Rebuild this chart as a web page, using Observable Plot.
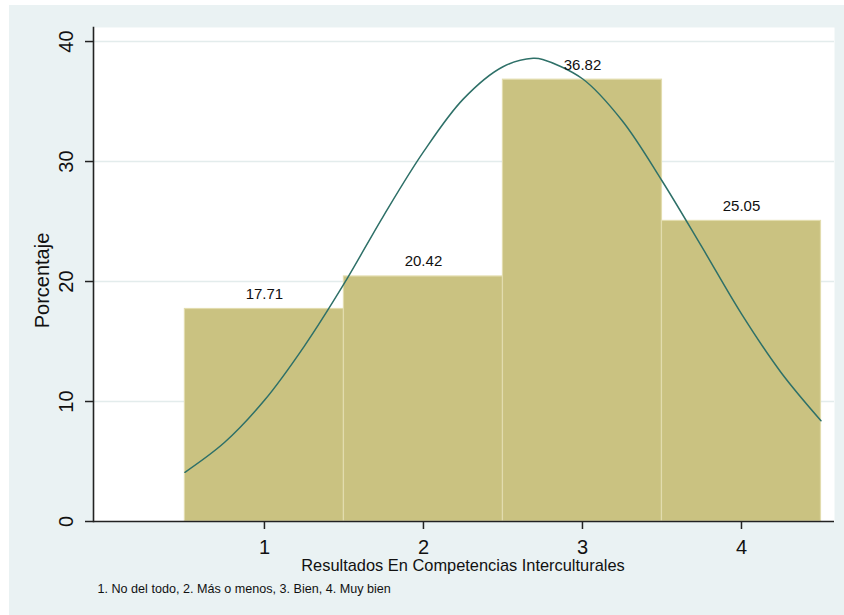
<!DOCTYPE html>
<html>
<head>
<meta charset="utf-8">
<script src="https://cdn.jsdelivr.net/npm/d3@7"></script>
<script src="https://cdn.jsdelivr.net/npm/@observablehq/plot@0.6"></script>
<style>
  html, body { margin: 0; padding: 0; background: #ffffff; }
  #wrap { position: absolute; left: 9px; top: 5px; width: 835px; height: 610px; background: #EAF2F3; }
  #wrap svg { display: block; background: transparent; }
</style>
</head>
<body>
<div id="wrap"></div>
<script>
// Categories and percentages (histogram)
const categories = [1, 2, 3, 4];
const percents = [17.71, 20.42, 36.82, 25.05];

// Normal density curve points (x, percent)
const curveX = [0.5, 0.75, 1.0, 1.25, 1.5, 1.75, 2.0, 2.25, 2.5, 2.69, 2.75, 3.0, 3.25, 3.5, 3.75, 4.0, 4.25, 4.5];
const curveY = [4.1, 6.6, 10.1, 14.6, 19.8, 25.5, 30.8, 35.2, 37.9, 38.6, 38.5, 36.9, 33.4, 28.4, 22.9, 17.3, 12.4, 8.4];

const xTicks = [1, 2, 3, 4];
const yTicks = [0, 10, 20, 30, 40];
const yTitle = "Porcentaje";
const xTitle = "Resultados En Competencias Interculturales";
const note = "1. No del todo, 2. Más o menos, 3. Bien, 4. Muy bien";

const bars = categories.map((c, i) => ({x1: c - 0.5, x2: c + 0.5, y: percents[i], c, label: percents[i].toFixed(2)}));
const curve = curveX.map((x, i) => ({x, y: curveY[i]}));

const font = "Arial, 'Liberation Sans', Helvetica, sans-serif";

const chart = Plot.plot({
  width: 835,
  height: 610,
  marginLeft: 84,
  marginTop: 22,
  marginRight: 10,
  marginBottom: 94,
  style: {fontFamily: font, background: "transparent", overflow: "visible"},
  x: {domain: [-0.075, 4.585], axis: null},
  y: {domain: [0, 41.17], axis: null},
  marks: [
    Plot.frame({fill: "white", stroke: "none"}),
    Plot.gridY(yTicks.filter(d => d > 0), {stroke: "#E3ECEC", strokeOpacity: 1, strokeWidth: 1.5}),
    Plot.rectY(bars, {x1: "x1", x2: "x2", y: "y", fill: "#CAC281", stroke: "#E2DCAE", strokeWidth: 1.2, inset: 0}),
    Plot.line(curve, {x: "x", y: "y", stroke: "#2E7068", strokeWidth: 1.5, curve: "catmull-rom"}),
    Plot.text(bars, {x: "c", y: "y", text: "label", dy: -15, lineAnchor: "middle", fontSize: 15, fill: "#111"}),
    Plot.axisX({ticks: xTicks, tickSize: 8, tickFormat: () => "", label: null, stroke: "#222", strokeWidth: 1.5}),
    Plot.axisY({ticks: yTicks, tickSize: 8, tickFormat: () => "", label: null, stroke: "#222", strokeWidth: 1.5}),
    Plot.ruleY([0], {stroke: "#222", strokeWidth: 1.6}),
    Plot.frame({anchor: "left", stroke: "#222", strokeWidth: 1.6}),
    Plot.text(xTicks, {x: d => d, text: d => String(d), frameAnchor: "bottom", dy: 26, lineAnchor: "middle", fontSize: 20, fill: "#111"}),
    Plot.text(yTicks, {y: d => d, text: d => String(d), frameAnchor: "left", dx: -27, rotate: -90, lineAnchor: "middle", textAnchor: "middle", fontSize: 20, fill: "#111"}),
    Plot.text([yTitle], {frameAnchor: "left", dx: -51, dy: 6, rotate: -90, lineAnchor: "middle", textAnchor: "middle", fontSize: 20, fill: "#111"}),
    Plot.text([xTitle], {frameAnchor: "bottom", dy: 44, dx: -1, lineAnchor: "middle", fontSize: 16.4, fill: "#111"}),
    Plot.text([note], {frameAnchor: "bottom-left", dx: 4, dy: 67, lineAnchor: "middle", textAnchor: "start", fontSize: 12.6, fill: "#111"})
  ]
});
document.getElementById("wrap").appendChild(chart);
</script>
</body>
</html>
